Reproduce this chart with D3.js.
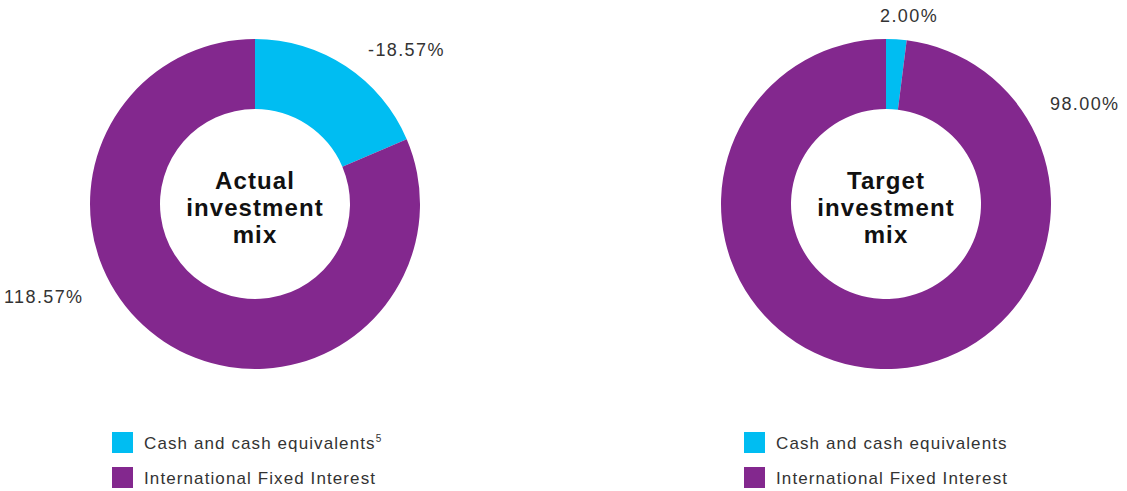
<!DOCTYPE html>
<html>
<head>
<meta charset="utf-8">
<script src="https://cdn.jsdelivr.net/npm/d3@7"></script>
<style>
  body { margin: 0; background: #fff; }
  text { font-family: "Liberation Sans", Arial, sans-serif; }
</style>
</head>
<body>
<script>
// Categories and values
var categories = ["Cash and cash equivalents", "International Fixed Interest"];
var colors = ["#00bdf2", "#83288e"];

// labels shown next to each slice
var actualLabels = [-18.57, 118.57];
var targetLabels = [2.00, 98.00];

// share of the ring each slice takes, as drawn
var actualShares = [18.57, 81.43];
var targetShares = [2.00, 98.00];

var width = 1127, height = 491;
var outerR = 165, innerR = 95;

var svg = d3.select("body").append("svg")
    .attr("width", width)
    .attr("height", height);

var pie = d3.pie().sort(null).value(function(d) { return d; });
var arc = d3.arc().innerRadius(innerR).outerRadius(outerR);

function drawDonut(cx, cy, shares, labels, title, labelPos, footnote, legendX) {
  var g = svg.append("g").attr("transform", "translate(" + cx + "," + cy + ")");

  g.selectAll("path")
      .data(pie(shares))
      .enter().append("path")
      .attr("d", arc)
      .attr("fill", function(d, i) { return colors[i]; });

  // title in the middle
  var t = g.append("text")
      .attr("text-anchor", "middle")
      .attr("font-size", 24)
      .attr("font-weight", "bold")
      .attr("letter-spacing", 1.1)
      .attr("fill", "#111");
  title.forEach(function(line, i) {
    t.append("tspan")
        .attr("x", 0)
        .attr("y", -15 + i * 27)
        .text(line);
  });

  // value labels
  labels.forEach(function(v, i) {
    svg.append("text")
        .attr("x", labelPos[i][0])
        .attr("y", labelPos[i][1])
        .attr("font-size", 18)
        .attr("letter-spacing", 1.4)
        .attr("fill", "#333")
        .text(v.toFixed(2) + "%");
  });

  // legend
  var leg = svg.append("g").attr("transform", "translate(" + legendX + ",432)");
  categories.forEach(function(c, i) {
    leg.append("rect")
        .attr("x", 0)
        .attr("y", i * 35)
        .attr("width", 21)
        .attr("height", 21)
        .attr("fill", colors[i]);
    var tx = leg.append("text")
        .attr("x", 32)
        .attr("y", i * 35 + 17)
        .attr("font-size", 17)
        .attr("letter-spacing", 1.1)
        .attr("fill", "#333")
        .text(c);
    if (i === 0 && footnote) {
      tx.append("tspan")
          .attr("font-size", 10)
          .attr("letter-spacing", 0)
          .attr("dy", -7)
          .text(footnote);
    }
  });
}

drawDonut(255, 204, actualShares, actualLabels, ["Actual", "investment", "mix"],
  [[368, 56], [4, 303]], "5", 112);
drawDonut(886, 204, targetShares, targetLabels, ["Target", "investment", "mix"],
  [[880, 22], [1050, 110]], null, 744);
</script>
</body>
</html>
